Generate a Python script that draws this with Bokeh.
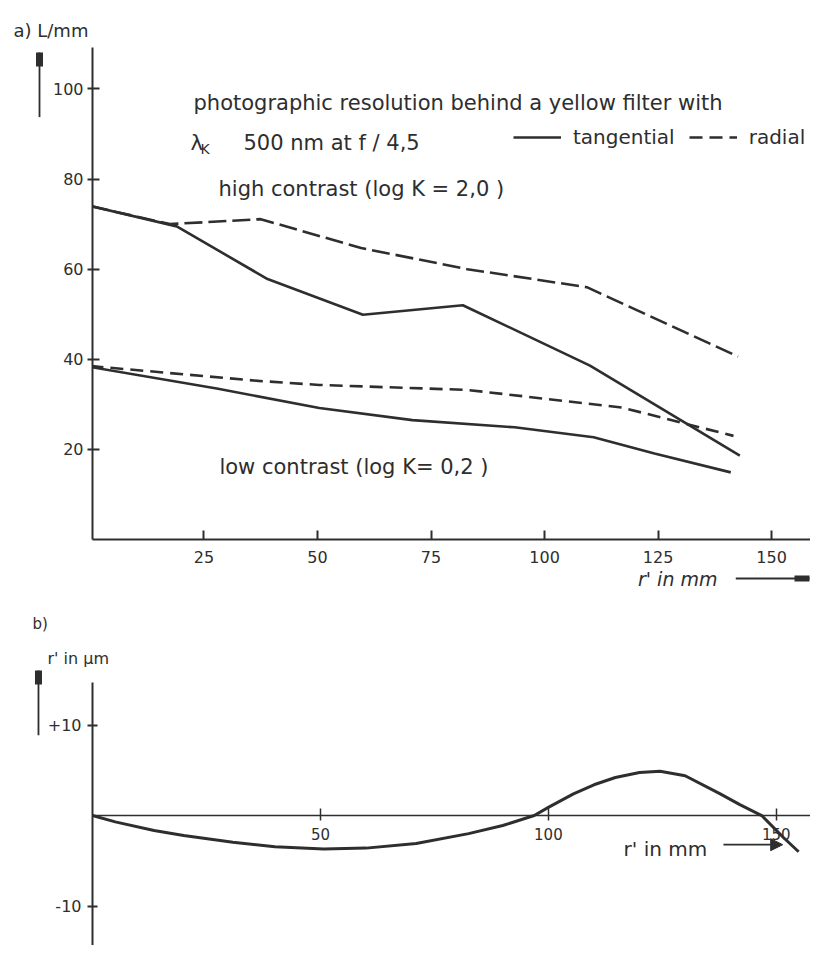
from bokeh.plotting import figure
from bokeh.models import (Range1d, Label, Arrow, NormalHead, Legend, LegendItem,
                          FixedTicker, Title)
from bokeh.layouts import column
from bokeh.embed import file_html
from bokeh.resources import INLINE

# ---------------- data ----------------
# a) photographic resolution L/mm vs r' in mm
tan_high_r = [0, 19, 39, 60, 82, 110, 143]
tan_high_v = [74, 69.5, 57.8, 49.9, 52.0, 38.6, 18.6]
rad_high_r = [0, 17.5, 37.5, 59.6, 83, 109.3, 142.6]
rad_high_v = [74, 70, 71.1, 64.7, 60, 56, 40.6]
tan_low_r = [0, 27.8, 50.4, 70.9, 93.4, 110.8, 124.2, 141]
tan_low_v = [38.3, 33.5, 29.2, 26.5, 24.9, 22.7, 19.1, 14.9]
rad_low_r = [0, 37, 50.4, 83, 117, 141.6]
rad_low_v = [38.5, 35.2, 34.3, 33.2, 29.3, 23.0]
ticks_a_x = [25, 50, 75, 100, 125, 150]
ticks_a_y = [20, 40, 60, 80, 100]

# b) r' in micrometre vs r' in mm
dist_r = [0, 5, 13.5, 20, 30.8, 40, 50.7, 60, 71, 82.5, 90, 96.9, 100, 105.5,
          110, 114.7, 120, 124.5, 130, 137.7, 142, 146.8, 151.5, 154.9]
dist_v = [0, -0.7, -1.66, -2.2, -2.95, -3.45, -3.7, -3.6, -3.1, -2.0, -1.1, 0, 0.9, 2.4,
          3.4, 4.2, 4.75, 4.9, 4.4, 2.4, 1.2, 0, -2.4, -4.0]
ticks_b_x = [50, 100, 150]
ticks_b_y = [-10, 10]

FONT = "DejaVu Sans"
INK = "#2e2e2e"


def style_axis(ax, size="16px"):
    ax.axis_line_color = INK
    ax.axis_line_width = 2
    ax.major_tick_line_color = INK
    ax.major_tick_line_width = 2
    ax.minor_tick_line_color = None
    ax.major_label_text_font = FONT
    ax.major_label_text_font_size = size
    ax.major_label_text_color = INK


def lab(p, x, y, text, size="21px", style="normal"):
    p.add_layout(Label(x=x, y=y, text=text, text_font=FONT, text_font_size=size,
                       text_color=INK, text_baseline="alphabetic", text_font_style=style))


def title(p, side, text, align, offset, standoff, size="16px", style="normal"):
    p.add_layout(Title(text=text, align=align, offset=offset, standoff=standoff,
                       text_font=FONT, text_font_size=size, text_font_style=style,
                       text_color=INK), side)


def outer_arrow(p, x0, y0, x1, y1, length, tip=14, tip_width=7):
    # arrow drawn beside the frame: shaft and pointed tip
    p.add_layout(Arrow(end=NormalHead(size=length, fill_alpha=0, line_alpha=0),
                       x_start=x0, y_start=y0, x_end=x1, y_end=y1,
                       line_color=INK, line_width=1.8))
    p.add_layout(Arrow(end=NormalHead(size=tip, fill_alpha=0, line_alpha=0),
                       x_start=x0, y_start=y0, x_end=x1, y_end=y1,
                       line_color=INK, line_width=tip_width))


# ---------------- figure a ----------------
p1 = figure(width=810, height=600, x_range=Range1d(0.45, 158.56), y_range=Range1d(0, 109.2),
            output_backend="svg", toolbar_location=None,
            min_border_left=92, min_border_right=0, min_border_top=47, min_border_bottom=61)
p1.outline_line_color = None
p1.grid.grid_line_color = None
style_axis(p1.xaxis[0], "16px")
style_axis(p1.yaxis[0], "16px")
p1.xaxis.ticker = FixedTicker(ticks=ticks_a_x)
p1.yaxis.ticker = FixedTicker(ticks=ticks_a_y)
p1.xaxis.major_tick_in = 9
p1.xaxis.major_tick_out = 0
p1.xaxis.major_label_standoff = 11
p1.yaxis.major_tick_in = 7
p1.yaxis.major_tick_out = 5
p1.yaxis.major_label_standoff = 4

r_th = p1.line(tan_high_r, tan_high_v, line_color=INK, line_width=2.6)
r_rh = p1.line(rad_high_r, rad_high_v, line_color=INK, line_width=2.6, line_dash="18 6")
r_tl = p1.line(tan_low_r, tan_low_v, line_color=INK, line_width=2.6)
r_rl = p1.line(rad_low_r, rad_low_v, line_color=INK, line_width=2.6, line_dash="13 7")

legend = Legend(items=[LegendItem(label="tangential", renderers=[r_tl]),
                       LegendItem(label="radial", renderers=[r_rl])],
                orientation="horizontal", location=(421, 390), padding=0, margin=0,
                spacing=14, glyph_width=48, glyph_height=20, label_standoff=12,
                label_text_font=FONT, label_text_font_size="20px", label_text_color=INK,
                border_line_color=None, background_fill_alpha=0)
p1.add_layout(legend)

lab(p1, 22.69, 96.8, "photographic   resolution    behind    a    yellow    filter   with")
lab(p1, 22.03, 87.9, "λ")
lab(p1, 24.23, 86.6, "K", size="14px")
lab(p1, 33.7, 87.9, "500 nm   at   f / 4,5")
lab(p1, 28.2, 77.9, "high   contrast  (log   K  =  2,0 )")
lab(p1, 28.4, 16.0, "low   contrast  (log   K= 0,2 )")

title(p1, "above", "a)  L/mm", "left", -79, 14, size="18px")
title(p1, "below", "r' in mm", "right", 93, 0, size="19px", style="italic")
outer_arrow(p1, -11.22, 93.7, -11.22, 108.1, 65)
outer_arrow(p1, 142.05, -8.66, 158.34, -8.66, 74, tip=15, tip_width=6)

# ---------------- figure b ----------------
p2 = figure(width=810, height=345, x_range=Range1d(0, 157.5), y_range=Range1d(-14.36, 14.7),
            output_backend="svg", toolbar_location=None, x_axis_location="above",
            min_border_left=92, min_border_right=0, min_border_top=82, min_border_bottom=0)
p2.outline_line_color = None
p2.grid.grid_line_color = None
style_axis(p2.xaxis[0], "15px")
style_axis(p2.yaxis[0], "16px")
p2.xaxis.fixed_location = 0
p2.xaxis.axis_line_width = 1.5
p2.xaxis.ticker = FixedTicker(ticks=ticks_b_x)
p2.xaxis.major_tick_out = 7
p2.xaxis.major_tick_in = 5
p2.xaxis.major_tick_line_width = 1.5
p2.xaxis.major_label_standoff = -31
p2.yaxis.ticker = FixedTicker(ticks=ticks_b_y)
p2.yaxis.major_label_overrides = {10: "+10", -10: "-10"}
p2.yaxis.major_tick_in = 5
p2.yaxis.major_tick_out = 5
p2.yaxis.major_label_standoff = 6

p2.line(dist_r, dist_v, line_color=INK, line_width=3)

title(p2, "above", "r' in  μm", "left", -45, 29)
title(p2, "above", "b)", "left", -60, 0, size="15px")
outer_arrow(p2, -11.85, 8.84, -11.85, 16.03, 65)
lab(p2, 116.5, -3.66, "r'   in   mm", size="20px")
p2.add_layout(Arrow(end=NormalHead(size=12, fill_color=INK, line_color=INK),
                    x_start=138.4, y_start=-3.22, x_end=151.4, y_end=-3.22,
                    line_color=INK, line_width=1.8))

layout = column(p1, p2, spacing=0)
open("out.html", "w").write(file_html(layout, INLINE))
